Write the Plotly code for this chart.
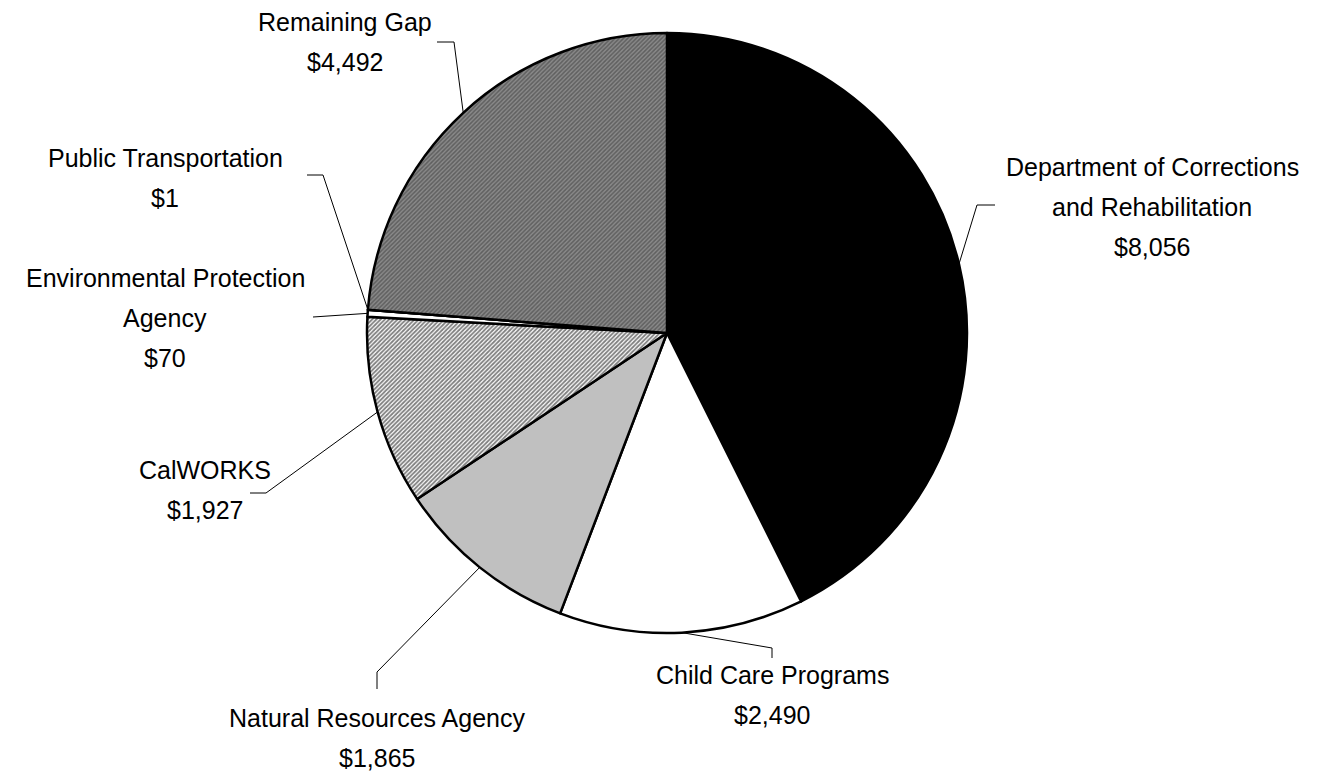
import math
import plotly.graph_objects as go

# ---- data ----
categories = [
    "Department of Corrections<br>and Rehabilitation",
    "Child Care Programs",
    "Natural Resources Agency",
    "CalWORKS",
    "Environmental Protection<br>Agency",
    "Public Transportation",
    "Remaining Gap",
]
values = [8056, 2490, 1865, 1927, 70, 1, 4492]
value_labels = ["$8,056", "$2,490", "$1,865", "$1,927", "$70", "$1", "$4,492"]

# ---- layout / style ----
W, H = 1317, 773
CX, CY, R = 667, 333, 300
FONT = "Liberation Sans, Arial, sans-serif"
FS = 25
LINE_GAP = 40

fills = ["black", "white", "#c0c0c0", "#ffffff", "white", "white", "#8a8a8a"]
pat_shape = ["", "", "", "/", "", "", "/"]
pat_fg = ["black", "black", "black", "#000000", "black", "black", "#333333"]
pat_size = [8, 8, 8, 3, 8, 8, 3]
pat_sol = [0.3, 0.3, 0.3, 0.6, 0.3, 0.3, 0.5]

# label anchor (center x, first line y), elbow point, end of leader line (all pixels)
label_pos = [(1152, 167), (772, 675), (377, 718), (205, 470), (165, 278), (165, 158), (345, 22)]
elbow = [(977, 205), (772, 648), (377, 672), (266, 493), (313, 317), (323, 175), (454, 42)]
tail = [(995, 205), (772, 658), (377, 689), (250, 493), (313, 317), (307, 175), (437, 42)]


def px(x):
    return x / W


def py(y):
    return 1 - y / H


fig = go.Figure()
fig.add_trace(go.Pie(
    labels=[c.replace("<br>", " ") for c in categories],
    values=values,
    sort=False,
    direction="clockwise",
    rotation=0,
    textinfo="none",
    hoverinfo="label+value",
    marker=dict(
        colors=fills,
        line=dict(color="black", width=2.5),
        pattern=dict(shape=pat_shape, fgcolor=pat_fg, size=pat_size, solidity=pat_sol,
                     fillmode="overlay"),
    ),
    domain=dict(x=[px(CX - R), px(CX + R)], y=[py(CY + R), py(CY - R)]),
    showlegend=False,
))

total = sum(values)
cum = 0
shapes = []
annotations = []
for i, v in enumerate(values):
    mid = (cum + v / 2) / total * 2 * math.pi
    cum += v
    sx = CX + R * math.sin(mid)
    sy = CY - R * math.cos(mid)
    ex, ey = elbow[i]
    tx, ty = tail[i]
    path = f"M {px(sx)} {py(sy)} L {px(ex)} {py(ey)} L {px(tx)} {py(ty)}"
    shapes.append(dict(type="path", xref="paper", yref="paper", path=path,
                       line=dict(color="black", width=1)))
    lines = categories[i].split("<br>") + [value_labels[i]]
    lx, ly = label_pos[i]
    for k, t in enumerate(lines):
        annotations.append(dict(
            text=t, x=px(lx), y=py(ly + k * LINE_GAP), xref="paper", yref="paper",
            xanchor="center", yanchor="middle", showarrow=False,
            font=dict(family=FONT, size=FS, color="black"),
        ))

fig.update_layout(
    width=W, height=H,
    margin=dict(l=0, r=0, t=0, b=0),
    paper_bgcolor="white",
    plot_bgcolor="white",
    shapes=shapes,
    annotations=annotations,
)

fig.write_html("out.html", config={"displayModeBar": False},
               post_script="document.body.style.margin='0px';")
